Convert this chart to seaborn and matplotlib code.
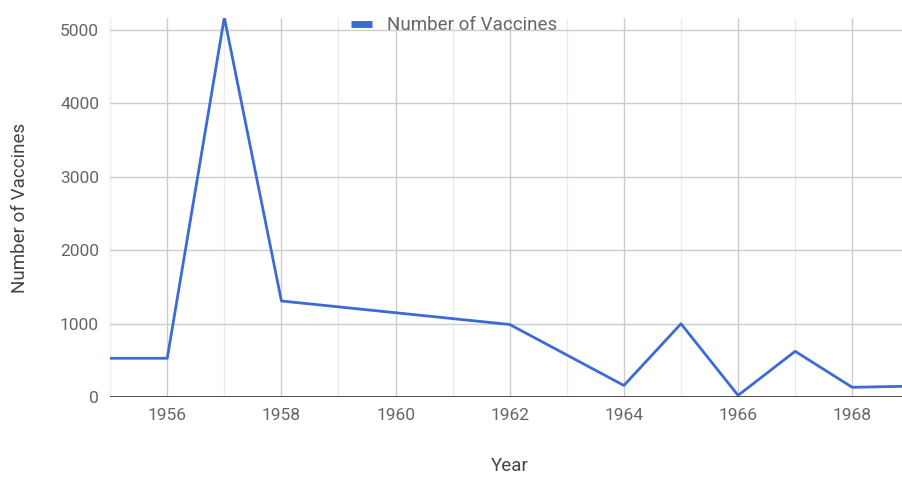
import matplotlib
matplotlib.use("Agg")
import matplotlib.pyplot as plt
from matplotlib.ticker import MultipleLocator
import pandas as pd
import seaborn as sns

# values
years = [1955, 1956, 1957, 1958, 1962, 1964, 1965, 1966, 1967, 1968, 1969]
vaccines = [530, 530, 5170, 1310, 990, 160, 1000, 25, 625, 135, 150]

df = pd.DataFrame({"Year": years, "Number of Vaccines": vaccines})

sns.set_style("white")
plt.rcParams["font.family"] = ["Roboto", "DejaVu Sans"]

fig = plt.figure(figsize=(9.03, 4.78), dpi=100)
ax = fig.add_axes([0.122, 0.169, 0.885, 0.793])

sns.lineplot(data=df, x="Year", y="Number of Vaccines", ax=ax,
             color="#3c6bd2", linewidth=2.0, label="Number of Vaccines")

ax.set_xlim(1955, 1969)
ax.set_ylim(0, 5160)
ax.xaxis.set_major_locator(MultipleLocator(2))
ax.xaxis.set_minor_locator(MultipleLocator(1))
ax.yaxis.set_major_locator(MultipleLocator(1000))
ax.grid(which="major", color="#cccccc", linewidth=1.0)
ax.grid(which="minor", axis="x", color="#ebebeb", linewidth=1.0)
ax.set_axisbelow(True)
for s in ax.spines.values():
    s.set_visible(False)
ax.axhline(0, color="#333333", linewidth=1.2)

ax.tick_params(which="both", length=0, labelsize=12.5, labelcolor="#666666", pad=8)
ax.set_xlabel("Year", fontsize=13.5, color="#444444", labelpad=24)
ax.set_ylabel("Number of Vaccines", fontsize=13.5, color="#444444", labelpad=22)

leg = ax.legend(loc="upper center", bbox_to_anchor=(0.43, 1.05), frameon=False,
                fontsize=13.5, handlelength=1.1, handletextpad=0.8)
for t in leg.get_texts():
    t.set_color("#666666")
for h in leg.get_lines():
    h.set_linewidth(5)
    h.set_solid_capstyle("butt")

fig.savefig("out.png", dpi=100)
